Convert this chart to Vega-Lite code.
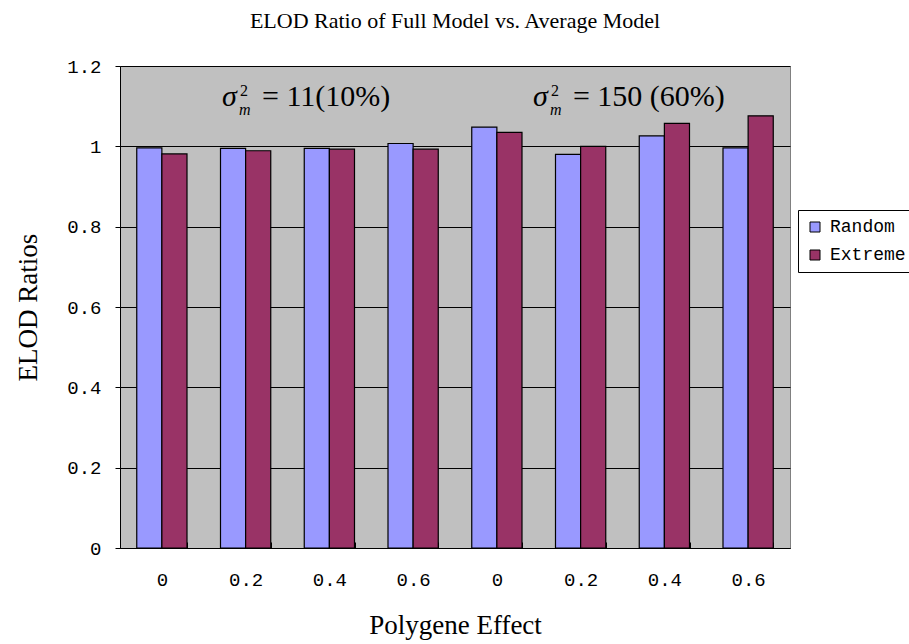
{
  "$schema": "https://vega.github.io/schema/vega-lite/v6.json",
  "width": 670,
  "height": 482,
  "autosize": {"type": "none"},
  "padding": {"left": 120, "top": 66, "right": 119, "bottom": 96},
  "background": "white",
  "title": {"text": "ELOD Ratio of Full Model vs. Average Model", "font": "Liberation Serif", "fontSize": 22, "fontWeight": "normal", "color": "black", "anchor": "middle", "offset": 24},
  "config": {"view": {"fill": "#C0C0C0", "stroke": "#808080", "strokeWidth": 1}},
  "layer": [
    {
      "data": {"values": [
        {"group": "11|0", "series": "Random", "ratio": 0.996},
        {"group": "11|0", "series": "Extreme", "ratio": 0.981},
        {"group": "11|0.2", "series": "Random", "ratio": 0.995},
        {"group": "11|0.2", "series": "Extreme", "ratio": 0.989},
        {"group": "11|0.4", "series": "Random", "ratio": 0.995},
        {"group": "11|0.4", "series": "Extreme", "ratio": 0.993},
        {"group": "11|0.6", "series": "Random", "ratio": 1.007},
        {"group": "11|0.6", "series": "Extreme", "ratio": 0.993},
        {"group": "150|0", "series": "Random", "ratio": 1.048},
        {"group": "150|0", "series": "Extreme", "ratio": 1.035},
        {"group": "150|0.2", "series": "Random", "ratio": 0.980},
        {"group": "150|0.2", "series": "Extreme", "ratio": 1.000},
        {"group": "150|0.4", "series": "Random", "ratio": 1.026},
        {"group": "150|0.4", "series": "Extreme", "ratio": 1.057},
        {"group": "150|0.6", "series": "Random", "ratio": 0.996},
        {"group": "150|0.6", "series": "Extreme", "ratio": 1.076}
      ]},
      "mark": {"type": "bar", "stroke": "black", "strokeWidth": 1.2},
      "encoding": {
        "x": {
          "field": "group", "type": "nominal", "sort": null,
          "scale": {"paddingInner": 0.4, "paddingOuter": 0.2},
          "axis": {
            "title": "Polygene Effect", "titleFont": "Liberation Serif", "titleFontSize": 27, "titleFontWeight": "normal", "titleColor": "black",
            "titleY": 85, "titleBaseline": "alphabetic",
            "labelExpr": "split(datum.label, '|')[1]", "labelAngle": 0,
            "labelFont": "Liberation Mono", "labelFontSize": 19, "labelColor": "black", "labelPadding": 28,
            "tickBand": "extent", "tickSize": -6, "tickColor": "black", "domainColor": "black", "grid": false
          }
        },
        "xOffset": {"field": "series", "type": "nominal", "sort": ["Random", "Extreme"], "scale": {"paddingInner": 0}},
        "y": {
          "field": "ratio", "type": "quantitative",
          "scale": {"domain": [0, 1.2], "nice": false},
          "axis": {
            "title": "ELOD Ratios", "titleFont": "Liberation Serif", "titleFontSize": 27, "titleFontWeight": "normal", "titleColor": "black",
            "titleAngle": -90, "titleX": -84, "titleY": 241, "titleBaseline": "alphabetic", "titleAlign": "center",
            "values": [0, 0.2, 0.4, 0.6, 0.8, 1, 1.2], "format": "~g",
            "labelFont": "Liberation Mono", "labelFontSize": 19, "labelColor": "black", "labelPadding": 14,
            "tickSize": 5, "tickColor": "black", "domainColor": "black",
            "grid": true, "gridColor": "black", "gridWidth": 1, "gridOpacity": 1
          }
        },
        "color": {
          "field": "series", "type": "nominal",
          "scale": {"domain": ["Random", "Extreme"], "range": ["#9999FF", "#993366"]},
          "legend": {
            "title": null, "orient": "none", "legendX": 678, "legendY": 144,
            "symbolType": "square", "symbolSize": 100, "symbolStrokeColor": "black", "symbolStrokeWidth": 1, "symbolOpacity": 1,
            "labelFont": "Liberation Mono", "labelFontSize": 18, "labelColor": "black", "labelOffset": 6,
            "strokeColor": "black", "fillColor": "white", "padding": 8, "rowPadding": 10
          }
        }
      }
    },
    {
      "data": {"values": [
        {"pos": 1.218, "ratio": 1.1, "rest": "= 11(10%)"},
        {"pos": 4.93, "ratio": 1.1, "rest": "= 150 (60%)"}
      ]},
      "encoding": {
        "x": {"field": "pos", "type": "quantitative", "scale": {"domain": [0, 8], "nice": false, "zero": false}, "axis": null},
        "y": {"field": "ratio", "type": "quantitative"}
      },
      "layer": [
        {"mark": {"type": "text", "text": "σ", "font": "Liberation Serif", "fontStyle": "italic", "fontSize": 30, "align": "left", "baseline": "alphabetic", "color": "black"}},
        {"mark": {"type": "text", "text": "2", "font": "Liberation Serif", "fontSize": 16, "align": "left", "baseline": "alphabetic", "dx": 18, "dy": -10, "color": "black"}},
        {"mark": {"type": "text", "text": "m", "font": "Liberation Serif", "fontStyle": "italic", "fontSize": 16, "align": "left", "baseline": "alphabetic", "dx": 17, "dy": 9, "color": "black"}},
        {"mark": {"type": "text", "font": "Liberation Serif", "fontSize": 30, "align": "left", "baseline": "alphabetic", "dx": 40, "color": "black"}, "encoding": {"text": {"field": "rest"}}}
      ]
    }
  ],
  "resolve": {"scale": {"x": "independent"}}
}
